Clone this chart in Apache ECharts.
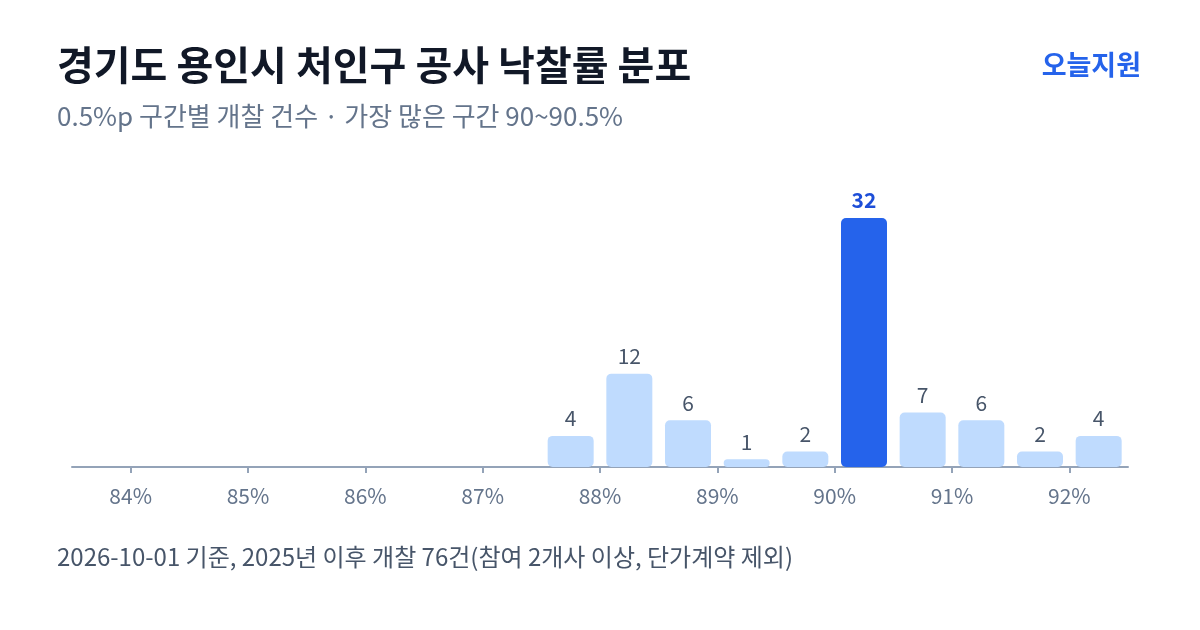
<!DOCTYPE html>
<html><head><meta charset="utf-8">
<script src="https://cdn.jsdelivr.net/npm/echarts@6/dist/echarts.min.js"></script>
<style>html,body{margin:0;padding:0;background:#fff}#c{width:1200px;height:630px}</style>
</head><body><div id="c"></div>
<script>
const binCenters = [87.75, 88.25, 88.75, 89.25, 89.75, 90.25, 90.75, 91.25, 91.75, 92.25];
const counts = [4, 12, 6, 1, 2, 32, 7, 6, 2, 4];
const tickValues = [84, 85, 86, 87, 88, 89, 90, 91, 92];
const peakIndex = 5;
const FONT = '"Noto Sans CJK KR", "Noto Sans", sans-serif';

const chart = echarts.init(document.getElementById('c'), null, {renderer: 'canvas'});
chart.setOption({
  animation: false,
  backgroundColor: '#ffffff',
  textStyle: {fontFamily: FONT},
  graphic: [
    {type: 'text', x: 57, y: 65, style: {text: '경기도 용인시 처인구 공사 낙찰률 분포', font: 'bold 40px ' + FONT, fill: '#111827', verticalAlign: 'middle', textVerticalAlign: 'middle'}},
    {type: 'text', x: 57, y: 116, style: {text: '0.5%p 구간별 개찰 건수 · 가장 많은 구간 90~90.5%', font: '26px ' + FONT, fill: '#64748b', verticalAlign: 'middle', textVerticalAlign: 'middle'}},
    {type: 'text', x: 1141, y: 65, style: {text: '오늘지원', font: 'bold 27px ' + FONT, fill: '#2563eb', align: 'right', textAlign: 'right', verticalAlign: 'middle', textVerticalAlign: 'middle'}},
    {type: 'text', x: 57, y: 557, style: {text: '2026-10-01 기준, 2025년 이후 개찰 76건(참여 2개사 이상, 단가계약 제외)', font: '24px ' + FONT, fill: '#475569', verticalAlign: 'middle', textVerticalAlign: 'middle'}}
  ],
  grid: {left: 72, right: 72, top: 218, bottom: 163},
  xAxis: {
    type: 'value', min: 83.5, max: 92.5,
    splitLine: {show: false},
    axisLine: {show: true, lineStyle: {color: '#94a3b8', width: 2}},
    axisTick: {show: true, customValues: tickValues, length: 6, lineStyle: {color: '#94a3b8', width: 2}},
    axisLabel: {customValues: tickValues, formatter: v => v + '%', color: '#64748b', fontSize: 21, margin: 19, fontFamily: FONT}
  },
  yAxis: {type: 'value', min: 0, max: 32, show: false},
  series: [{
    type: 'bar',
    barWidth: 46,
    data: binCenters.map((c, i) => ({
      value: [c, counts[i]],
      itemStyle: {color: i === peakIndex ? '#2563eb' : '#bfdbfe', borderRadius: 5},
      label: i === peakIndex ? {color: '#1d4ed8', fontWeight: 'bold'} : {}
    })),
    label: {show: true, position: 'top', distance: 7, color: '#475569', fontSize: 21, fontFamily: FONT, formatter: p => p.value[1]}
  }]
});
</script></body></html>
